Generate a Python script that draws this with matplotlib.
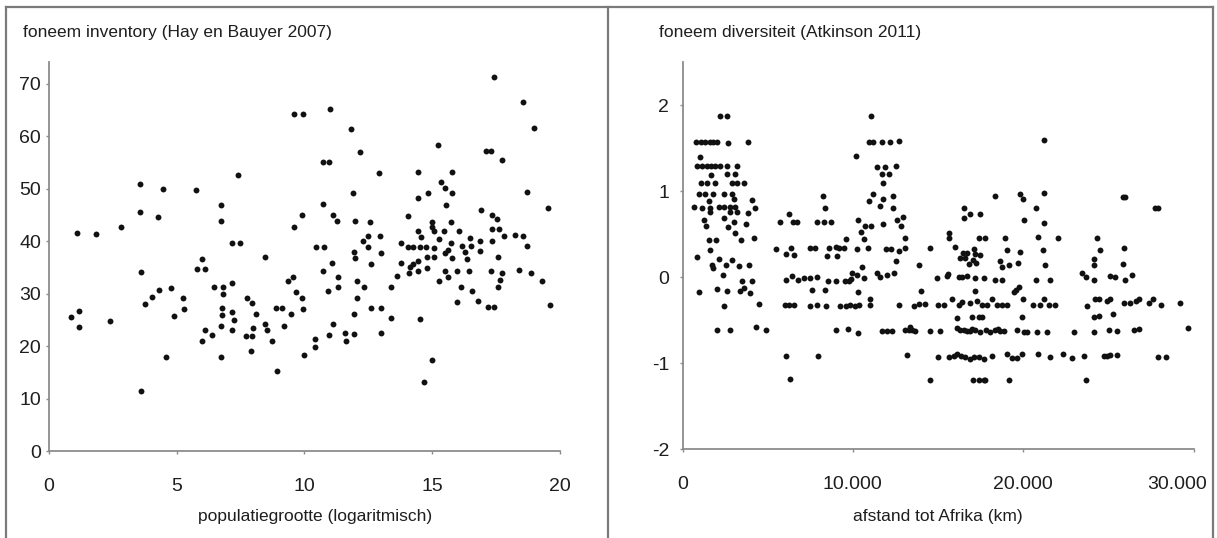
import matplotlib.pyplot as plt
import numpy as np
from matplotlib.lines import Line2D
from matplotlib.transforms import ScaledTranslation

plt.rcParams['font.family'] = ['Liberation Sans Narrow', 'Liberation Sans', 'DejaVu Sans']
plt.rcParams['axes.unicode_minus'] = False

# ---- linker paneel: foneem inventory tegen populatiegrootte ----
pop_log = [
    1.11, 1.87, 2.84, 3.59, 3.59, 4.49, 4.29, 5.75, 6.74, 6.75, 7.39, 7.15, 7.5, 6.0, 5.81, 6.11,
    8.46, 9.58, 9.95, 11.0, 9.6, 9.92, 10.45, 10.78, 10.74, 11.13, 11.27, 11.06, 10.72, 10.97,
    11.8, 12.17, 11.88, 11.98, 12.56, 11.95, 11.97, 12.3, 12.5, 12.5, 12.62, 12.97, 12.93, 13.0,
    14.05, 13.78, 13.79, 14.04, 14.25, 14.5, 14.75, 14.45, 14.45, 14.43, 14.57, 14.81, 14.11,
    14.25, 14.45, 14.8, 14.78, 15.07, 15.0, 15.0, 15.06, 15.07, 15.21, 15.33, 15.51, 15.53,
    15.44, 15.26, 15.48, 15.62, 15.74, 15.76, 15.77, 15.76, 15.74, 16.05, 16.15, 16.29, 16.35,
    16.47, 16.5, 16.88, 16.87, 16.91, 17.08, 17.31, 17.4, 17.72, 17.32, 17.52, 17.34, 17.61,
    17.34, 17.78, 17.57, 18.24, 18.53, 18.53, 18.68, 18.97, 18.71, 19.53,
    0.87, 1.2, 1.19, 2.4, 3.6, 3.63, 3.76, 4.06, 4.33, 4.79, 4.9, 4.58, 5.26, 5.29, 5.98, 6.11,
    6.37, 6.48, 6.8, 6.8, 6.72, 6.74, 6.78, 6.78, 7.18, 7.18, 7.24, 7.18, 7.76, 7.94, 7.71,
    7.94, 8.0, 8.09, 7.91, 8.44, 8.53, 8.75, 8.88, 9.11, 8.91, 9.2, 9.35, 9.57, 9.66, 9.49,
    9.89, 9.95, 9.98, 10.42, 10.42, 10.74, 10.92, 11.33, 11.33, 10.97, 11.1, 11.6, 11.62,
    11.95, 11.94, 12.06, 12.05, 12.33, 12.59, 13.0, 13.0, 13.37, 13.37, 13.62, 14.07, 14.45,
    14.52, 14.68, 14.98, 15.25, 15.51, 15.62, 15.98, 15.95, 16.1, 16.44, 16.53, 16.78, 17.17,
    17.41, 17.29, 17.57, 17.63, 17.72, 18.39, 18.87, 19.3, 19.59,
]
inventory = [
    41.6, 41.4, 42.6, 50.8, 45.6, 49.9, 44.6, 49.8, 46.8, 43.8, 52.6, 39.7, 39.7, 36.6, 34.6, 34.6,
    36.9, 64.1, 64.1, 65.2, 42.6, 45.0, 38.8, 38.8, 47.1, 44.9, 43.8, 35.8, 55.0, 55.0,
    61.4, 56.9, 49.2, 43.9, 43.6, 38.0, 36.8, 40.0, 40.9, 38.8, 35.6, 40.9, 52.9, 37.7,
    44.8, 39.7, 35.9, 38.8, 38.8, 38.8, 38.8, 53.1, 48.1, 41.9, 40.8, 49.2, 35.0,
    35.6, 36.1, 36.9, 34.8, 36.9, 43.7, 42.6, 41.9, 38.7, 58.3, 51.3, 50.1, 46.9,
    41.9, 40.3, 37.7, 38.3, 39.6, 36.8, 53.1, 49.1, 43.7, 41.9, 39.0, 37.9, 36.6,
    40.6, 39.0, 40.0, 38.1, 46.0, 57.2, 57.2, 71.2, 55.4, 45.0, 44.1, 42.2, 42.3,
    40.0, 40.9, 37.0, 41.2, 40.9, 66.5, 49.4, 61.6, 39.0, 46.3,
    25.6, 26.7, 23.7, 24.8, 34.1, 11.5, 28.0, 29.4, 30.7, 31.0, 25.8, 18.0, 29.1, 27.1, 21.0, 23.1,
    22.1, 31.2, 31.3, 29.9, 23.8, 18.0, 27.2, 25.9, 32.0, 26.4, 25.0, 23.0, 29.1, 28.1, 21.9,
    21.9, 23.4, 26.1, 19.0, 24.1, 23.1, 21.0, 27.3, 27.3, 15.2, 23.9, 32.3, 33.1, 30.2, 26.1,
    29.2, 27.1, 18.2, 21.3, 19.9, 34.2, 30.4, 33.2, 31.2, 22.1, 24.2, 22.5, 21.0,
    26.1, 22.2, 32.4, 29.1, 31.2, 27.3, 22.4, 27.3, 31.2, 25.4, 33.4, 33.9, 34.2,
    25.2, 13.2, 17.3, 32.3, 34.3, 33.1, 28.3, 34.3, 31.3, 34.3, 30.4, 28.6, 27.4,
    27.4, 34.3, 31.3, 32.5, 33.9, 34.5, 33.9, 32.4, 27.8,
]

# ---- rechter paneel: foneem diversiteit tegen afstand tot Afrika (x in 1000 km) ----
afstand_k = [
    2.21, 2.64, 0.81, 1.10, 1.34, 1.59, 1.79, 2.02, 2.70, 3.82, 1.00,
    0.88, 1.14, 1.43, 1.67, 1.92, 2.21, 2.61, 3.19, 1.67, 2.64, 3.09,
    1.08, 1.43, 1.92, 2.90, 3.19, 3.62, 0.96, 1.34, 1.79, 2.45, 2.90,
    1.53, 3.03, 4.08, 0.65, 1.14, 1.63, 2.12, 2.41, 2.76, 3.09, 3.82, 4.27,
    1.63, 2.80, 3.19, 1.28, 2.41, 3.03, 3.74, 1.37, 2.70, 3.09, 4.22,
    1.53, 1.96, 3.43, 1.63, 0.88, 2.12, 1.79, 1.73, 2.56, 2.92, 3.33, 3.92,
    2.35, 3.49, 4.08, 0.94, 2.02, 2.64, 3.39, 3.62, 3.98, 4.47, 2.46,
    2.01, 2.80, 4.31, 4.90, 6.07, 6.34,
    5.74, 6.28, 6.48, 6.72, 7.90, 5.50, 6.05, 6.36, 6.56, 7.50, 7.80,
    6.09, 6.42, 6.76, 7.11, 7.50, 7.90, 7.60, 6.03, 6.28, 6.56, 7.50, 7.90, 7.95,
    11.09, 10.92, 11.21, 11.71, 12.20, 12.69, 10.20, 11.42, 11.90, 12.55, 11.71, 12.14, 11.75,
    11.21, 12.33, 10.92, 11.75, 11.57, 12.33, 8.22, 8.34, 8.28, 8.73,
    10.30, 10.69, 11.09, 11.78, 12.59, 12.92, 12.84, 10.48, 10.63, 13.08, 9.59,
    8.61, 9.00, 9.20, 9.46, 10.24, 10.87, 8.48, 9.06, 11.94, 12.26, 12.69, 13.08,
    12.55, 13.87, 10.54, 14.51,
    8.53, 9.00, 9.52, 9.75, 9.91, 10.24, 10.67, 9.95, 11.42, 11.62, 12.02, 12.41,
    8.38, 10.28, 10.99, 11.03, 8.42, 9.26, 9.59, 9.85, 10.10, 10.38, 12.73, 14.02,
    13.57, 13.87, 14.22, 14.94, 15.53, 15.58, 15.00, 15.33, 15.82, 16.21, 16.41,
    15.62, 15.66, 16.02, 16.51, 16.51, 16.45, 16.21, 16.41, 16.11,
    9.00, 9.69, 10.28, 11.71, 12.02, 12.31, 13.04, 13.28, 13.47, 13.63, 13.37,
    14.51, 15.13, 16.11, 16.31, 16.51, 13.18,
    15.00, 15.62, 15.92, 16.11, 16.37, 16.57, 14.51,
    21.24, 18.36, 19.80, 19.99, 21.22, 20.77, 16.90, 17.48, 20.03, 21.21,
    17.38, 17.77, 18.95, 22.03, 20.90, 21.16, 17.10, 16.70, 17.20, 17.49,
    19.05, 19.80, 17.06, 17.25, 18.65, 18.76, 19.15, 19.68, 21.30,
    16.70, 17.20, 17.68, 18.36, 18.76, 20.77, 21.55,
    17.20, 19.60, 19.74, 19.48, 19.99,
    16.90, 17.29, 17.59, 17.87, 18.17, 18.46, 18.76, 19.05,
    17.00, 17.39, 17.59, 19.93, 20.57, 20.97, 21.24, 21.50, 21.89,
    16.90, 17.20, 17.49, 18.07, 18.36, 18.66, 18.85,
    19.64, 20.07, 20.23, 20.82, 21.38, 23.00,
    16.90, 17.10, 17.38, 17.68, 18.17, 19.05, 19.34, 19.64, 19.93, 20.85, 21.59, 22.34, 22.87, 23.57,
    17.06, 17.39, 17.68, 17.77, 19.15, 23.67,
    24.33, 24.53, 24.14, 24.14, 23.45, 23.70, 24.14, 25.12,
    23.76, 24.24, 24.43, 24.92, 24.14, 24.43, 24.14, 25.02, 24.73, 24.92,
    25.4, 26.0, 26.4, 25.3, 25.5, 25.9, 26.3, 26.6, 26.8, 27.4, 27.6, 28.1, 29.2,
    26.5, 26.8, 25.1, 25.5, 27.9, 28.4, 29.7, 25.1,
    25.85, 25.95, 27.76, 27.90, 25.9, 25.84,
    16.3, 16.6, 16.8, 16.7, 17.0, 17.8, 18.5,
]
diversiteit = [
    1.87, 1.87, 1.57, 1.57, 1.57, 1.57, 1.57, 1.57, 1.56, 1.57, 1.40,
    1.29, 1.29, 1.29, 1.29, 1.29, 1.29, 1.29, 1.29, 1.19, 1.20, 1.20,
    1.10, 1.10, 1.10, 1.10, 1.10, 1.09, 0.97, 0.97, 0.97, 0.97, 0.97,
    0.89, 0.91, 0.90, 0.82, 0.80, 0.80, 0.82, 0.82, 0.82, 0.82, 0.75, 0.80,
    0.76, 0.76, 0.76, 0.67, 0.69, 0.64, 0.62, 0.60, 0.58, 0.51, 0.45,
    0.43, 0.43, 0.43, 0.32, 0.23, 0.21, 0.11, 0.14, 0.14, 0.20, 0.13, 0.14,
    0.03, -0.04, -0.04, -0.17, -0.14, -0.16, -0.16, -0.13, -0.18, -0.31, -0.34,
    -0.62, -0.62, -0.58, -0.62, -0.92, -1.19,
    0.64, 0.74, 0.64, 0.64, 0.64, 0.33, 0.27, 0.34, 0.26, 0.34, 0.34,
    -0.03, 0.01, -0.03, -0.01, -0.01, 0.0, -0.15, -0.33, -0.33, -0.33, -0.34, -0.33, -0.92,
    1.87, 1.57, 1.57, 1.57, 1.57, 1.58, 1.41, 1.28, 1.28, 1.29, 1.20, 1.20, 1.10,
    0.97, 0.94, 0.89, 0.91, 0.83, 0.80, 0.94, 0.81, 0.64, 0.64,
    0.66, 0.60, 0.60, 0.62, 0.66, 0.70, 0.60, 0.52, 0.44, 0.45, 0.44,
    0.34, 0.35, 0.34, 0.34, 0.33, 0.34, 0.25, 0.25, 0.33, 0.33, 0.30, 0.34,
    0.19, 0.14, 0.12, 0.34,
    -0.05, -0.05, -0.04, -0.04, -0.02, 0.02, -0.01, 0.05, 0.05, 0.0, 0.03, 0.05,
    -0.15, -0.17, -0.25, -0.32, -0.34, -0.34, -0.34, -0.33, -0.34, -0.32, -0.32, -0.16,
    -0.34, -0.31, -0.31, -0.01, 0.01, 0.04, -0.33, -0.33, -0.25, -0.33, -0.29,
    0.51, 0.45, 0.35, 0.81, 0.69, 0.28, 0.0, 0.0, -0.47,
    -0.61, -0.60, -0.65, -0.63, -0.63, -0.63, -0.62, -0.61, -0.62, -0.63, -0.58,
    -0.63, -0.63, -0.59, -0.61, -0.61, -0.91,
    -0.93, -0.93, -0.92, -0.90, -0.92, -0.93, -1.20,
    1.59, 0.94, 0.97, 0.91, 0.98, 0.81, 0.74, 0.74, 0.66, 0.63,
    0.45, 0.45, 0.45, 0.45, 0.47, 0.32, 0.33, 0.28, 0.27, 0.26,
    0.31, 0.29, 0.20, 0.16, 0.19, 0.12, 0.14, 0.16, 0.14,
    0.01, -0.01, -0.01, -0.03, -0.03, -0.03, -0.03,
    -0.16, -0.15, -0.12, -0.17, -0.25,
    -0.30, -0.28, -0.32, -0.33, -0.26, -0.32, -0.33, -0.33,
    -0.46, -0.46, -0.46, -0.46, -0.33, -0.33, -0.26, -0.33, -0.33,
    -0.63, -0.62, -0.64, -0.64, -0.62, -0.63, -0.63,
    -0.61, -0.64, -0.64, -0.64, -0.64, -0.64,
    -0.95, -0.93, -0.93, -0.95, -0.92, -0.90, -0.94, -0.94, -0.90, -0.90, -0.93, -0.90, -0.94, -0.92,
    -1.20, -1.20, -1.20, -1.20, -1.20, -1.20,
    0.45, 0.31, 0.21, 0.14, 0.05, 0.0, -0.03, 0.01,
    -0.34, -0.25, -0.25, -0.28, -0.46, -0.45, -0.64, -0.61, -0.92, -0.92,
    0.0, -0.03, 0.03, -0.43, -0.63, -0.30, -0.30, -0.28, -0.25, -0.30, -0.25, -0.32, -0.30,
    -0.62, -0.60, -0.91, -0.91, -0.93, -0.93, -0.59, -0.25,
    0.93, 0.93, 0.81, 0.81, 0.34, 0.15,
    0.22, 0.22, 0.15, -0.63, -0.60, -0.61, -0.60,
]

left_yticks = [0, 10, 20, 30, 40, 50, 60, 70]
left_xticks = [0, 5, 10, 15, 20]
right_yticks = [-2, -1, 0, 1, 2]
right_xticks = [0, 10000, 20000, 30000]
right_xticklabels = ['0', '10.000', '20.000', '30.000']

W, H = 1217, 538
fig = plt.figure(figsize=(W / 100, H / 100), dpi=100)

AX_COL = '#8c8c8c'
TXT = '#1e1e1e'
FS = 12.5      # titels en aslabels
FS_TICK = 14   # getallen bij de assen


def style(ax, ypad):
    for s in ['top', 'right']:
        ax.spines[s].set_visible(False)
    for s in ['left', 'bottom']:
        ax.spines[s].set_color(AX_COL)
        ax.spines[s].set_linewidth(1.3)
    ax.tick_params(axis='both', colors=AX_COL, labelcolor=TXT, labelsize=FS_TICK, length=2.5, width=1)
    ax.tick_params(axis='x', pad=17)
    ax.tick_params(axis='y', pad=ypad)


# linker grafiek
ax1 = fig.add_axes([48.6 / W, 1 - 451 / H, (560.3 - 48.6) / W, (451 - 62) / H])
ax1.scatter(pop_log, inventory, s=18, color='#111111', linewidths=0, zorder=3)
ax1.set_xlim(0, 20)
ax1.set_ylim(0, 74.1)
ax1.set_xticks(left_xticks)
ax1.set_yticks(left_yticks)
style(ax1, 3)

# rechter grafiek
afstand_km = np.array(afstand_k) * 1000
ax2 = fig.add_axes([682.5 / W, 1 - 449 / H, (1193.5 - 682.5) / W, (449 - 62) / H])
ax2.scatter(afstand_km, diversiteit, s=18, color='#111111', linewidths=0, zorder=3, clip_on=False)
ax2.set_xlim(0, 30000)
ax2.set_ylim(-2, 2.503)
ax2.set_xticks(right_xticks)
ax2.set_xticklabels(right_xticklabels)
ax2.set_yticks(right_yticks)
style(ax2, 7)
# laatste label schuift iets naar links, zoals in het origineel
last = ax2.get_xticklabels()[-1]
last.set_transform(last.get_transform() + ScaledTranslation(-0.16, 0, fig.dpi_scale_trans))

# titels en aslabels
fig.text(23 / W, 1 - 33 / H, 'foneem inventory (Hay en Bauyer 2007)', fontsize=FS, color=TXT, va='center', ha='left')
fig.text(659.5 / W, 1 - 33 / H, 'foneem diversiteit (Atkinson 2011)', fontsize=FS, color=TXT, va='center', ha='left')
fig.text(315 / W, 1 - 517 / H, 'populatiegrootte (logaritmisch)', fontsize=FS, color=TXT, va='center', ha='center')
fig.text(937.7 / W, 1 - 517 / H, 'afstand tot Afrika (km)', fontsize=FS, color=TXT, va='center', ha='center')

# grijze kaders rond beide panelen
frame_kw = dict(color='#7a7a7a', linewidth=1.6, transform=fig.transFigure)
top = 1 - 7 / H
for x in [6 / W, 608 / W, 1213 / W]:
    fig.add_artist(Line2D([x, x], [-0.01, top], **frame_kw))
fig.add_artist(Line2D([6 / W, 1213 / W], [top, top], **frame_kw))

fig.savefig('out.png', dpi=100)
